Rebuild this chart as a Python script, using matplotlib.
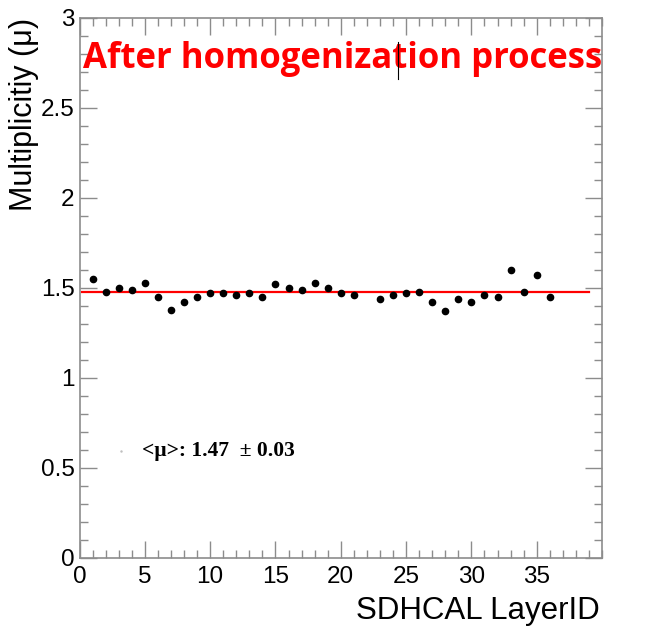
import numpy as np
import matplotlib
matplotlib.use('Agg')
import matplotlib.pyplot as plt
from matplotlib.lines import Line2D
from matplotlib.ticker import MultipleLocator

# layer 22 has no point
layers = [1, 2, 3, 4, 5, 6, 7, 8, 9, 10, 11, 12, 13, 14, 15, 16, 17, 18, 19, 20, 21,
          23, 24, 25, 26, 27, 28, 29, 30, 31, 32, 33, 34, 35, 36]
mult = [1.55, 1.48, 1.50, 1.49, 1.53, 1.45, 1.38, 1.42, 1.45, 1.47, 1.47, 1.46, 1.47,
        1.45, 1.52, 1.50, 1.49, 1.53, 1.50, 1.47, 1.46,
        1.44, 1.46, 1.47, 1.48, 1.42, 1.37, 1.44, 1.42, 1.46, 1.45, 1.60, 1.48, 1.57, 1.45]
fit_mean = 1.478
fit_range = [0.2, 39.0]

grey = '#8c8c8c'
plt.rcParams['font.family'] = ['Liberation Sans', 'DejaVu Sans']

fig = plt.figure(figsize=(6.5, 6.41), dpi=100)
ax = fig.add_axes([79.5/650, 83/641, 522.5/650, 540/641])

ax.plot(layers, mult, 'o', color='black', ms=4.5, zorder=3)
ax.plot(fit_range, [fit_mean, fit_mean], color='red', lw=1.6, zorder=2)

ax.set_xlim(0, 40)
ax.set_ylim(0, 3)
ax.xaxis.set_major_locator(MultipleLocator(5))
ax.xaxis.set_minor_locator(MultipleLocator(1))
ax.yaxis.set_major_locator(MultipleLocator(0.5))
ax.yaxis.set_minor_locator(MultipleLocator(0.1))
ax.set_xticks([0, 5, 10, 15, 20, 25, 30, 35])
ax.set_xticklabels(['0', '5', '10', '15', '20', '25', '30', '35'])
ax.set_yticks([0, 0.5, 1, 1.5, 2, 2.5, 3])
ax.set_yticklabels(['0', '0.5', '1', '1.5', '2', '2.5', '3'])

for s in ax.spines.values():
    s.set_color(grey)
    s.set_linewidth(1.2)
ax.tick_params(which='both', direction='in', top=True, right=True, color=grey, width=1)
ax.tick_params(which='major', length=12.5, labelsize=17.5)
ax.tick_params(axis='y', which='major', pad=3.5)
ax.tick_params(axis='x', which='major', pad=6)
ax.tick_params(which='minor', length=6)

ax.set_xlabel('SDHCAL LayerID', fontsize=22.5, loc='right')
ax.xaxis.set_label_coords(0.996, -0.07)
ax.set_ylabel('Multiplicitiy (\u03bc)', fontsize=22, loc='top')
ax.yaxis.set_label_coords(-0.078, 1.0)

ax.text(0.27, 2.722, 'After homogenization process', color='red', fontsize=25,
        fontweight='bold', family=['Open Sans', 'DejaVu Sans'], va='baseline', ha='left')
ax.plot([3.2], [0.594], '.', ms=1.5, color='0.75')
ax.text(4.77, 0.594, '<\u03bc>: 1.47  \u00b1 0.03', fontsize=15.5, fontweight='bold',
        family=['Liberation Serif', 'DejaVu Serif'], va='center', ha='left')

# text cursor left in the screenshot
fig.add_artist(Line2D([398/650, 398/650], [1 - 42/641, 1 - 79/641], color='black', lw=0.8))

fig.savefig('out.png', dpi=100)
